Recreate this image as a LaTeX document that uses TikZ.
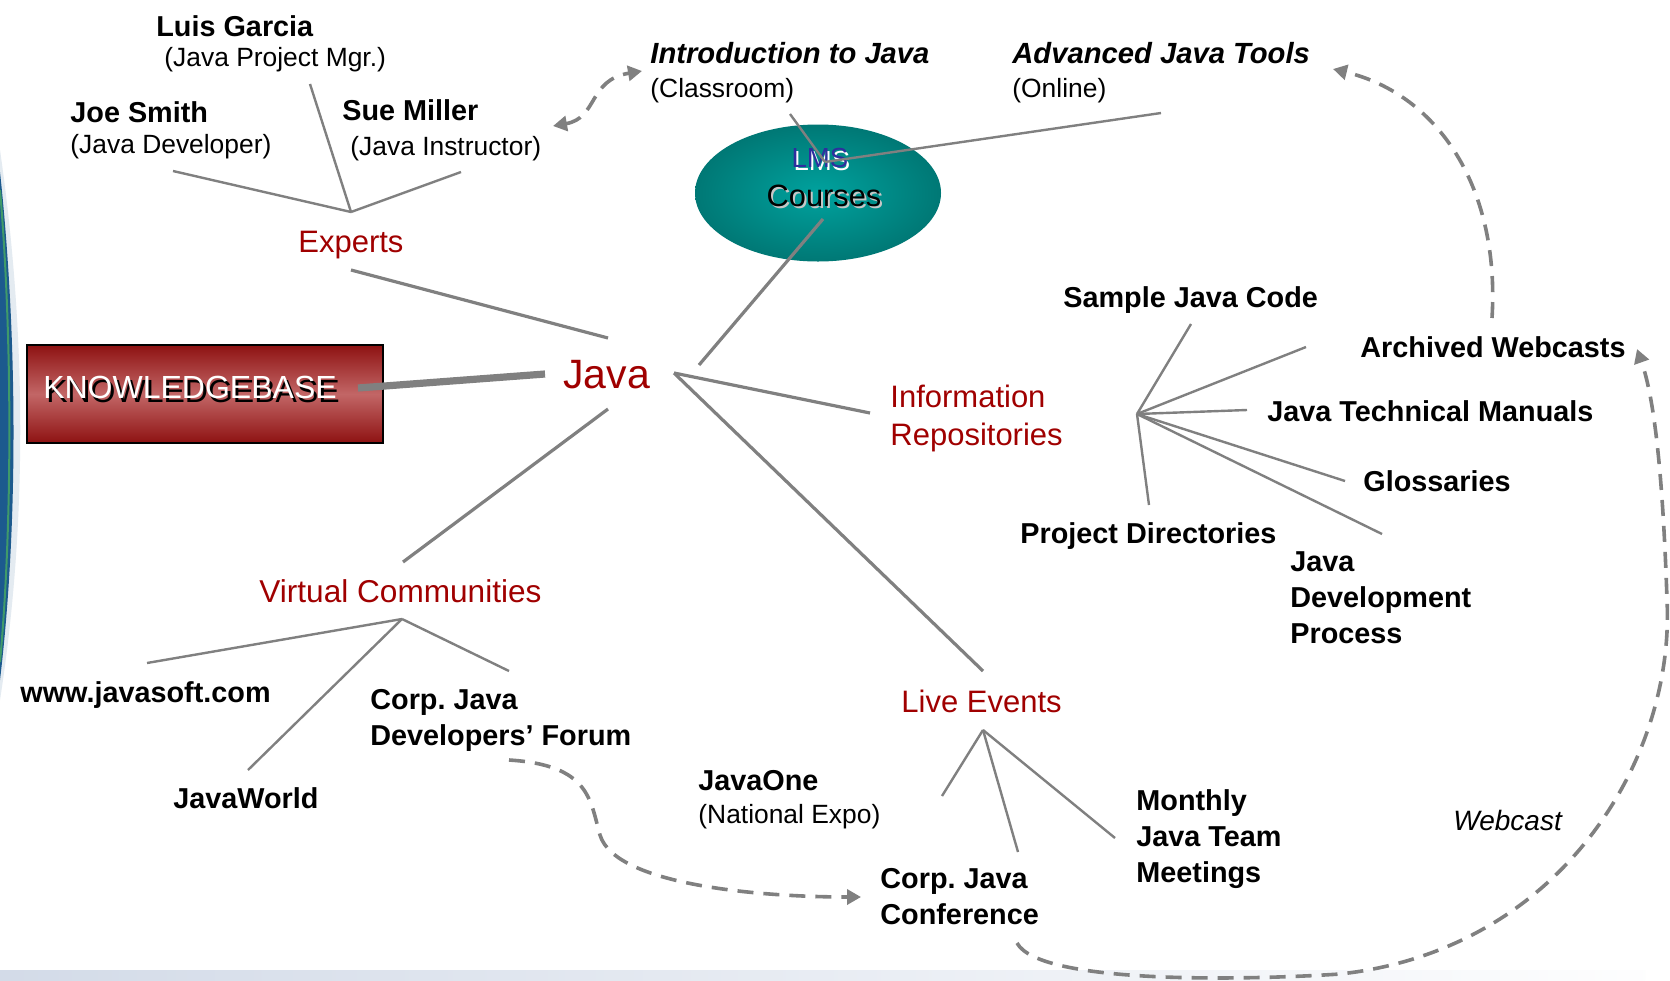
\documentclass[tikz,border=0pt]{standalone}
\usepackage{fontspec}
\setmainfont{Liberation Sans}
\usetikzlibrary{shapes.geometric,arrows.meta}
\definecolor{catred}{HTML}{A00000}
\definecolor{lgray}{HTML}{808080}
\definecolor{lmsblue}{HTML}{2E2E9E}
\definecolor{tealin}{HTML}{00A29E}
\definecolor{tealout}{HTML}{007875}
\definecolor{kbdark}{HTML}{8E1212}
\definecolor{kblight}{HTML}{C26666}
\definecolor{swblue}{HTML}{1C5A8E}
\definecolor{swgreen}{HTML}{3F9A6A}
\definecolor{stripc}{HTML}{D3DBE8}
\newcommand{\myshadow}[5]{\rlap{\kern#3\raisebox{-#4}{\textcolor{#2}{#5}}}\textcolor{#1}{#5}}
\frenchspacing
\begin{document}
\begin{tikzpicture}[x=0.5pt,y=-0.5pt,
  lname/.style={font=\bfseries\fontsize{14.4}{17.8}\selectfont, anchor=base west, inner sep=0pt, align=left},
  role/.style={font=\fontsize{13.2}{16}\selectfont, anchor=base west, inner sep=0pt},
  course/.style={font=\bfseries\itshape\fontsize{14.6}{17.5}\selectfont, anchor=base west, inner sep=0pt},
  cat/.style={text=catred, font=\fontsize{15.5}{19}\selectfont, anchor=base west, inner sep=0pt, align=left},
  spoke/.style={draw=lgray, line width=1.6pt},
  twig/.style={draw=lgray, line width=1.2pt},
  flow/.style={draw=lgray, line width=1.8pt, dash pattern=on 8pt off 5pt},
  tip/.tip={Triangle[length=7pt,width=7.5pt]},
  kbbox/.style={draw=black, line width=1pt, minimum width=178pt, minimum height=49pt, inner sep=0pt,
     top color=kbdark, bottom color=kbdark, middle color=kblight,
     font=\fontsize{16}{19}\selectfont, text depth=7pt},
  lmsshape/.style={ellipse, minimum width=123pt, minimum height=68.5pt, inner sep=0pt,
     shade, inner color=tealin, outer color=tealout}
]
\useasboundingbox (0,0) rectangle (1670,980);
% background decorations
\fill[white] (0,0) rectangle (1670,980);
\fill[swblue!12] (0,150) .. controls (26,330) and (28,520) .. (0,700) -- cycle;
\fill[swblue] (0,172) .. controls (17,330) and (19,520) .. (0,680) -- cycle;
\draw[swgreen, line width=1pt] (0,190) .. controls (12,330) and (13,520) .. (0,662);
\shade[left color=stripc, right color=white!96!stripc] (0,970) rectangle (1645,980);

% knowledge base and ellipse
\node[kbbox] (kb) at (205,394) {\myshadow{white}{black}{1.5pt}{2pt}{KNOWLEDGEBASE}\hspace*{15pt}};
\node[lmsshape] (lms) at (818,193) {};
\node[font=\fontsize{13.8}{16}\selectfont, anchor=base, inner sep=0pt] (lmsT) at (820,167) {\myshadow{lmsblue}{white}{1pt}{1.5pt}{LMS}};
\node[font=\fontsize{15.4}{18}\selectfont, anchor=base, inner sep=0pt] (coursesT) at (824,206) {\myshadow{black}{gray!45}{1pt}{1pt}{Courses}};

% labels (multi-line labels are placed by the baseline of their last line)
\node[lname] (luis) at (156,36) {Luis Garcia};
\node[role] (luisR) at (164,66) {(Java Project Mgr.)};
\node[lname] (joe) at (70,122) {Joe Smith};
\node[role] (joeR) at (70,153) {(Java Developer)};
\node[lname] (sue) at (342,120) {Sue Miller};
\node[role] (sueR) at (350,155) {(Java Instructor)};
\node[course] (intro) at (650,63) {Introduction to Java};
\node[role] (introR) at (650,97) {(Classroom)};
\node[course] (adv) at (1012,63) {Advanced Java Tools};
\node[role] (advR) at (1012,97) {(Online)};
\node[cat] (experts) at (298,252) {Experts};
\node[cat, font=\fontsize{20.5}{24}\selectfont] (java) at (563,388) {Java};
\node[cat, font=\fontsize{15.5}{19}\selectfont] (info) at (890,445) {Information\\Repositories};
\node[cat, font=\fontsize{15.8}{19}\selectfont] (vc) at (259,602) {Virtual Communities};
\node[cat] (live) at (901,712) {Live Events};
\node[lname] (sample) at (1063,307) {Sample Java Code};
\node[lname] (archived) at (1360,357) {Archived Webcasts};
\node[lname] (manuals) at (1267,421) {Java Technical Manuals};
\node[lname] (gloss) at (1363,491) {Glossaries};
\node[lname] (projdir) at (1020,543) {Project Directories};
\node[lname] (jdp) at (1290,643) {Java\\Development\\Process};
\node[lname] (javasoft) at (20,702) {www.javasoft.com};
\node[lname] (forum) at (370,745) {Corp. Java\\Developers’ Forum};
\node[lname] (javaworld) at (173,808) {JavaWorld};
\node[lname] (javaone) at (698,790) {JavaOne};
\node[role] (javaoneR) at (698,823) {(National Expo)};
\node[lname] (conf) at (880,924) {Corp. Java\\Conference};
\node[lname] (monthly) at (1136,882) {Monthly\\Java Team\\Meetings};
\node[role, font=\itshape\fontsize{14}{17}\selectfont] (webcast) at (1453,830) {Webcast};

% connector end points
\coordinate (eHub) at (351,212);
\coordinate (luisE) at (310,84);
\coordinate (joeE) at (173,171);
\coordinate (sueE) at (461,172);
\coordinate (expE) at (351,270);
\coordinate (javaNW) at (608,338);
\coordinate (kbE) at (358,388);
\coordinate (javaW) at (545,374);
\coordinate (javaNE) at (699,365);
\coordinate (lmsS) at (823,219);
\coordinate (lmsHub) at (825,162);
\coordinate (introE) at (790,114);
\coordinate (advE) at (1161,113);
\coordinate (javaE) at (674,373);
\coordinate (infoE) at (870,413);
\coordinate (liveN) at (983,671);
\coordinate (javaS) at (608,409);
\coordinate (vcN) at (403,562);
\coordinate (vHub) at (402,619);
\coordinate (javasoftE) at (147,663);
\coordinate (javaworldE) at (248,770);
\coordinate (forumE) at (509,671);
\coordinate (iHub) at (1137,414);
\coordinate (sampleE) at (1191,324);
\coordinate (archivedE) at (1306,347);
\coordinate (manualsE) at (1247,410);
\coordinate (glossE) at (1345,481);
\coordinate (jdpE) at (1382,534);
\coordinate (projdirE) at (1149,505);
\coordinate (lHub) at (983,730);
\coordinate (javaoneE) at (942,796);
\coordinate (confE) at (1018,852);
\coordinate (monthlyE) at (1115,838);
\coordinate (sueA) at (553,126);
\coordinate (introA) at (642,71);
\coordinate (forumA) at (509,760);
\coordinate (confA) at (861,897);
\coordinate (confB) at (1017,943);
\coordinate (archivedA) at (1637,349);
\coordinate (archivedB) at (1492,318);
\coordinate (advA) at (1333,69);

% connectors
\draw[twig] (luisE) -- (eHub);
\draw[twig] (joeE) -- (eHub);
\draw[twig] (sueE) -- (eHub);
\draw[spoke] (expE) -- (javaNW);
\draw[draw=lgray, line width=3.6pt] (kbE) -- (javaW);
\draw[spoke] (javaNE) -- (lmsS);
\draw[twig] (introE) -- (lmsHub);
\draw[twig] (advE) -- (lmsHub);
\draw[spoke] (javaE) -- (infoE);
\draw[spoke] (javaE) -- (liveN);
\draw[spoke] (javaS) -- (vcN);
\draw[twig] (vHub) -- (javasoftE);
\draw[twig] (vHub) -- (javaworldE);
\draw[twig] (vHub) -- (forumE);
\draw[twig] (iHub) -- (sampleE);
\draw[twig] (iHub) -- (archivedE);
\draw[twig] (iHub) -- (manualsE);
\draw[twig] (iHub) -- (glossE);
\draw[twig] (iHub) -- (jdpE);
\draw[twig] (iHub) -- (projdirE);
\draw[twig] (lHub) -- (javaoneE);
\draw[twig] (lHub) -- (confE);
\draw[twig] (lHub) -- (monthlyE);

% dashed flows
\draw[flow, {tip}-{tip}] (sueA) .. controls (598,118) and (588,80) .. (introA);
\draw[flow, -{tip}] (forumA) .. controls (590,765) and (590,800) .. (600,835)
   .. controls (615,885) and (760,897) .. (confA);
\draw[flow, -{tip}] (confB) .. controls (1040,985) and (1250,980) .. (1340,974)
   .. controls (1560,950) and (1675,760) .. (1667,600)
   .. controls (1663,480) and (1655,400) .. (archivedA);
\draw[flow, -{tip}] (archivedB) .. controls (1500,190) and (1440,95) .. (advA);
\end{tikzpicture}
\end{document}
